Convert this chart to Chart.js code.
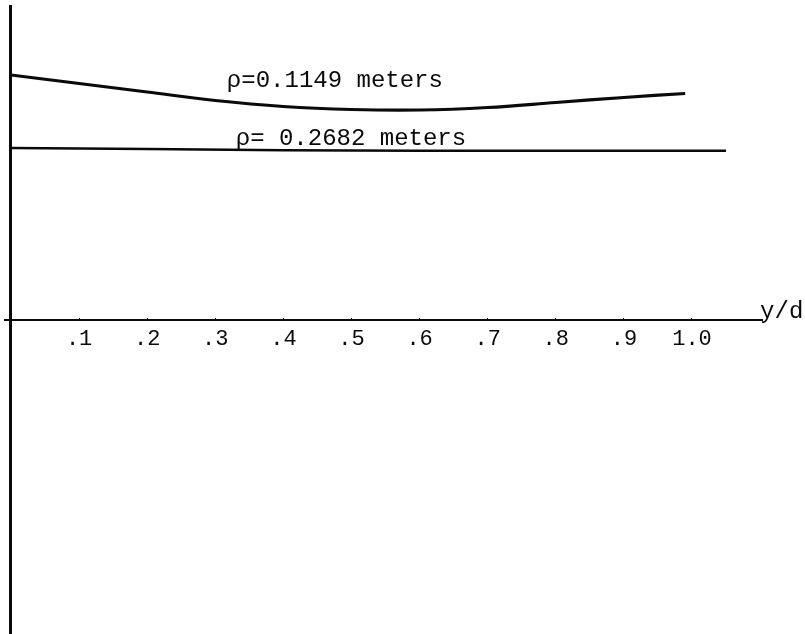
<!DOCTYPE html>
<html><head><meta charset="utf-8">
<script src="https://cdn.jsdelivr.net/npm/chart.js@4.4.1/dist/chart.umd.min.js"></script>
<style>html,body{margin:0;padding:0;background:#fff}</style>
</head><body>
<canvas id="c" width="805" height="634"></canvas>
<script>
// ---- data ----
const yOverD = [0, 0.1, 0.2, 0.3, 0.4, 0.5, 0.6, 0.7, 0.8, 0.9, 0.99];
const rho01149 = [2.45, 2.365, 2.28, 2.195, 2.135, 2.105, 2.10, 2.125, 2.175, 2.225, 2.265];
const yOverDFlat = [0, 0.2, 0.4, 0.6, 0.8, 1.05];
const rho02682 = [1.72, 1.71, 1.697, 1.693, 1.693, 1.693];
const tickValues = [0.1, 0.2, 0.3, 0.4, 0.5, 0.6, 0.7, 0.8, 0.9, 1.0];
const tickLabels = [".1", ".2", ".3", ".4", ".5", ".6", ".7", ".8", ".9", "1.0"];
const seriesNames = ["ρ=0.1149 meters", "ρ= 0.2682 meters"];
const axisTitle = "y/d";

// ---- presentation ----
const INK = '#0a0a0a';
const FAMILY = '"Liberation Mono", "DejaVu Sans Mono", monospace';
const TICK_FONT = {family: FAMILY, size: 22};
const NOTE_SIZE = 24;
const textMarks = [
  {text: seriesNames[0], x: 0.317, y: 2.33},
  {text: seriesNames[1], x: 0.330, y: 1.75},
  {text: axisTitle, x: 1.100, y: 0.02}
];

const textPlugin = {
  id: 'textMarks',
  afterDatasetsDraw(chart) {
    const {ctx, scales: {x, y}} = chart;
    ctx.save();
    ctx.fillStyle = INK;
    ctx.font = NOTE_SIZE + 'px ' + FAMILY;
    ctx.textAlign = 'left';
    ctx.textBaseline = 'alphabetic';
    textMarks.forEach(m => ctx.fillText(m.text, x.getPixelForValue(m.x), y.getPixelForValue(m.y)));
    ctx.restore();
  }
};

new Chart(document.getElementById('c'), {
  type: 'scatter',
  data: {
    datasets: [
      {
        label: seriesNames[0],
        data: yOverD.map((v, i) => ({x: v, y: rho01149[i]})),
        showLine: true, borderColor: INK, borderWidth: 3.2,
        pointRadius: 0, tension: 0.35
      },
      {
        label: seriesNames[1],
        data: yOverDFlat.map((v, i) => ({x: v, y: rho02682[i]})),
        showLine: true, borderColor: INK, borderWidth: 2.6,
        pointRadius: 0, tension: 0
      }
    ]
  },
  options: {
    responsive: false,
    animation: false,
    layout: {padding: {left: 5, right: 43, top: 6, bottom: 0}},
    plugins: {legend: {display: false}, tooltip: {enabled: false}},
    scales: {
      x: {
        type: 'linear', min: -0.0088, max: 1.1028,
        position: {y: 0},
        afterBuildTicks: axis => { axis.ticks = tickValues.map(v => ({value: v})); },
        grid: {display: true, drawOnChartArea: false, drawTicks: true, tickLength: -3, color: INK, lineWidth: 1},
        border: {display: true, color: INK, width: 2},
        ticks: {
          color: INK, font: TICK_FONT, padding: 9, maxRotation: 0, autoSkip: false,
          callback: v => { const i = tickValues.findIndex(t => Math.abs(t - v) < 1e-9); return i >= 0 ? tickLabels[i] : ''; }
        }
      },
      y: {
        type: 'linear', min: -3.14, max: 3.14,
        position: {x: 0},
        grid: {display: false},
        border: {display: true, color: INK, width: 3},
        ticks: {display: false}
      }
    }
  },
  plugins: [textPlugin]
});
</script>
</body></html>
